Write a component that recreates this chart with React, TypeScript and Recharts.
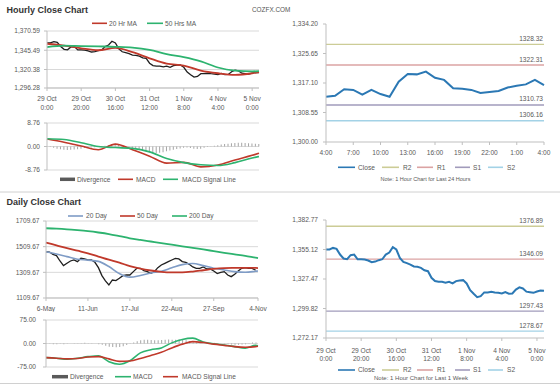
import React from 'react'
import {
  ComposedChart,
  LineChart,
  Line,
  Bar,
  XAxis,
  YAxis,
  CartesianGrid,
  ReferenceLine,
} from 'recharts'

const FONT = '"Liberation Sans", Arial, sans-serif'
const TXT = '#595959'
const AXIS = '#bfbfbf'
const GRID = '#d9d9d9'
const RED = '#c0392b'
const GREEN = '#2db36f'
const BLUE20 = '#7f9cc6'
const CLOSE_BLUE = '#2b78b4'
const DIV = '#a5a5a5'

// hourly closes for the last week, one every 2 hours from 29 Oct 0:00
const weekClose = [
  1355.1, 1355.1, 1356.6, 1355.7, 1350.4, 1346.7, 1346.0, 1349.8, 1350.4, 1346.0,
  1346.0, 1345.7, 1344.8, 1343.2, 1343.8, 1345.1, 1346.0, 1350.4, 1352.3, 1357.3,
  1355.1, 1347.3, 1343.5, 1342.3, 1341.0, 1339.2, 1338.9, 1337.9, 1335.7, 1334.8,
  1328.6, 1325.5, 1324.8, 1324.8, 1323.9, 1324.8, 1323.3, 1325.5, 1326.1, 1326.4,
  1323.3, 1317.0, 1313.6, 1310.5, 1311.4, 1314.9, 1314.9, 1315.5, 1314.9, 1314.5,
  1313.9, 1315.3, 1313.7, 1313.9, 1317.5, 1319.6, 1318.6, 1315.6, 1315.1, 1314.5,
  1315.8, 1316.7, 1316.5,
]
const weekDivergence = [
  0, -0.2, -0.5, -0.8, -1.0, -1.2, -1.3, -1.2, -1.1, -1.0,
  -0.8, -0.6, -0.5, -0.4, -0.3, -0.2, 0.0, 0.3, 0.6, 0.9,
  1.0, 0.6, 0.3, -0.1, -0.4, -0.6, -0.9, -1.2, -1.5, -1.8,
  -2.1, -2.3, -2.4, -2.3, -2.1, -1.8, -1.5, -1.2, -0.9, -0.7,
  -0.5, -0.4, -0.6, -0.8, -0.9, -0.8, -0.5, -0.2, 0.1, 0.3,
  0.5, 0.7, 0.9, 1.0, 1.2, 1.3, 1.4, 1.4, 1.3, 1.2,
  1.1, 1.0, 0.9,
]
const maHours = [0, 10, 20, 30, 40, 50, 60, 70, 80, 90, 100, 110, 120, 124]
const ma20Hr = [1354.0, 1351.5, 1348.0, 1345.5, 1348.5, 1343.0, 1335.0, 1328.0, 1325.5, 1319.0, 1315.5, 1313.5, 1315.5, 1317.0]
const ma50Hr = [1349.5, 1351.5, 1351.0, 1350.5, 1350.0, 1349.0, 1346.0, 1340.5, 1336.5, 1331.0, 1323.0, 1319.0, 1318.0, 1318.3]
const macdHourly = [2.8, 1.6, 0.2, -1.2, 0.9, -1.2, -3.6, -6.2, -5.9, -7.6, -6.9, -5.0, -3.3, -2.5]
const signalHourly = [2.9, 2.6, 1.4, 0.0, -0.4, -0.7, -2.0, -4.5, -6.0, -6.8, -7.1, -6.0, -4.3, -3.7]
const hourTicks = [0, 20, 40, 60, 80, 100, 120]
const hourTickDay = ['29 Oct', '29 Oct', '30 Oct', '31 Oct', '1 Nov', '4 Nov', '5 Nov']
const hourTickTime = ['0:00', '20:00', '16:00', '12:00', '8:00', '4:00', '0:00']
const hourlyPriceTicks = [1296.28, 1320.38, 1345.49, 1370.59]
const hourlyMacdTicks = [-8.76, 0, 8.76]

// last 24 hours, hourly
const lastDayClose = [
  1313.1, 1313.4, 1315.3, 1315.1, 1313.7, 1315.1, 1313.9, 1313.1, 1317.5, 1319.7,
  1319.6, 1320.4, 1318.6, 1318.0, 1315.6, 1315.4, 1315.1, 1314.2, 1314.5, 1314.8,
  1315.8, 1316.3, 1316.7, 1318.0, 1316.5,
]
const lastDayTicks = [0, 3, 6, 9, 12, 15, 18, 21, 24]
const lastDayLabels = ['4:00', '7:00', '10:00', '13:00', '16:00', '19:00', '22:00', '1:00', '4:00']
const lastDayPriceTicks = [1300.0, 1308.55, 1317.1, 1325.65, 1334.2]
const weekPriceTicks = [1272.17, 1299.82, 1327.47, 1355.12, 1382.77]

// pivot levels
const pivotNames = ['R2', 'R1', 'S1', 'S2']
const pivotColors = ['#cccc96', '#dba3a3', '#a19bbb', '#a3d2e6']
const lastDayPivots = [1328.32, 1322.31, 1310.73, 1306.16]
const weekPivots = [1376.89, 1346.09, 1297.43, 1278.67]

// daily, one value every 3 days from 6-May
const dailyClose = [
  1470, 1468, 1450, 1440, 1398, 1362, 1380, 1398, 1406, 1393,
  1419, 1414, 1406, 1406, 1388, 1346, 1284, 1243, 1212, 1250,
  1245, 1263, 1284, 1289, 1289, 1315, 1341, 1341, 1323, 1315,
  1302, 1315, 1346, 1367, 1380, 1393, 1406, 1419, 1414, 1393,
  1388, 1372, 1352, 1341, 1341, 1352, 1336, 1336, 1320, 1300,
  1310, 1315, 1289, 1276, 1295, 1320, 1341, 1346, 1341, 1341,
  1326,
]
const dailyDivergence = [
  -1, -1, -2, -2, -1, -2, -1, 0, 1, 1,
  1, 2, 1, 1, 0, -2, -4, -7, -10, -11,
  -12, -11, -9, -5, -1, 3, 7, 10, 12, 12,
  11, 10, 10, 11, 12, 13, 12, 12, 13, 12,
  10, 8, 6, 3, 1, 0, 1, 2, 2, 1,
  0, -1, -2, -3, -4, -4, -3, -2, 1, 3,
  3,
]
const maDays = [0, 9, 18, 27, 36, 45, 54, 63, 72, 81, 90, 99, 108, 117, 126, 135, 144, 153, 162, 171, 180, 182]
const ma20Day = [1470, 1452, 1432, 1412, 1405, 1395, 1355, 1300, 1272, 1285, 1305, 1318, 1345, 1370, 1378, 1362, 1342, 1328, 1315, 1310, 1318, 1320]
const ma50Day = [1542, 1520, 1498, 1478, 1458, 1432, 1408, 1385, 1358, 1338, 1324, 1314, 1310, 1310, 1316, 1326, 1336, 1342, 1344, 1345, 1344, 1343]
const ma200Day = [1653, 1650, 1645, 1638, 1630, 1620, 1608, 1592, 1575, 1562, 1550, 1538, 1525, 1512, 1500, 1488, 1475, 1462, 1450, 1438, 1424, 1421]
const macdDaily = [-45, -47, -50, -47, -42, -39, -58, -66, -55, -30, -20, -14, 2, 13, 17, 5, -1, -5, -10, -15, -6, -7]
const signalDaily = [-45, -47, -49, -48, -43, -42, -49, -57, -56, -48, -38, -28, -14, -2, 6, 3, -2, -6, -10, -12, -10, -9]
const dayTicks = [0, 36, 72, 108, 144, 182]
const dayTickLabels = ['6-May', '11-Jun', '17-Jul', '22-Aug', '27-Sep', '4-Nov']
const dailyPriceTicks = [1109.67, 1309.67, 1509.67, 1709.67]
const dailyMacdTicks = [-75, 0, 75]

const weekRows = weekClose.map((close, i) => ({ h: i * 2, close, div: weekDivergence[i] }))
const hourMaRows = maHours.map((h, i) => ({
  h,
  ma20: ma20Hr[i],
  ma50: ma50Hr[i],
  macd: macdHourly[i],
  signal: signalHourly[i],
}))
const lastDayRows = lastDayClose.map((close, i) => ({ i, close }))
const dailyRows = dailyClose.map((close, i) => ({ d: i * 3, close, div: dailyDivergence[i] }))
const dayMaRows = maDays.map((d, i) => ({
  d,
  ma20: ma20Day[i],
  ma50: ma50Day[i],
  ma200: ma200Day[i],
  macd: macdDaily[i],
  signal: signalDaily[i],
}))

const fmtComma = (v: number) =>
  v.toLocaleString('en-US', { minimumFractionDigits: 2, maximumFractionDigits: 2 })
const fmtPlain = (v: number) => v.toFixed(2)

const tickStyle = { fontSize: 6.6, fill: TXT, fontFamily: FONT }

function LabelTick(props: any) {
  const { x, y, payload, ticks, top, bottom, dy1, dy2 } = props
  const k = ticks.indexOf(payload.value)
  return (
    <text x={x} y={y} textAnchor="middle" fill={TXT} fontSize={6.6} fontFamily={FONT}>
      <tspan x={x} dy={dy1}>{top[k]}</tspan>
      {bottom && <tspan x={x} dy={dy2}>{bottom[k]}</tspan>}
    </text>
  )
}

function PivotLabel(props: any) {
  const { viewBox, text } = props
  return (
    <text
      x={viewBox.x + viewBox.width - 1}
      y={viewBox.y - 3.5}
      textAnchor="end"
      fill={TXT}
      fontSize={6.6}
      fontFamily={FONT}
    >
      {text}
    </text>
  )
}

function Legend({ y, items }: { y: number; items: any[] }) {
  return (
    <g>
      {items.map((it) => (
        <g key={it.label}>
          <line
            x1={it.x}
            x2={it.x + it.w}
            y1={y}
            y2={y}
            stroke={it.color}
            strokeWidth={it.thick ? 3.5 : 1.6}
          />
          <text x={it.tx} y={y + 2.4} fill={TXT} fontSize={6.6} fontFamily={FONT}>
            {it.label}
          </text>
        </g>
      ))}
    </g>
  )
}

const pivotLegend = [
  { label: 'Close', color: CLOSE_BLUE, x: 338, w: 17, tx: 358 },
  { label: 'R2', color: pivotColors[0], x: 382, w: 17, tx: 403 },
  { label: 'R1', color: pivotColors[1], x: 417, w: 16, tx: 437 },
  { label: 'S1', color: pivotColors[2], x: 455, w: 15, tx: 473 },
  { label: 'S2', color: pivotColors[3], x: 488, w: 15, tx: 507 },
]

export default function App() {
  const yAxisCommon = {
    type: 'number' as const,
    allowDataOverflow: true,
    axisLine: { stroke: AXIS },
    tickLine: { stroke: AXIS },
    tickSize: 3,
    tick: tickStyle,
    interval: 0 as const,
  }
  return (
    <div
      style={{
        position: 'absolute',
        left: 0,
        top: 0,
        width: 560,
        height: 385,
        background: '#fff',
        fontFamily: FONT,
        overflow: 'hidden',
      }}
    >
      {/* hourly price */}
      <div style={{ position: 'absolute', left: 0, top: 26 }}>
        <ComposedChart width={272} height={87} data={weekRows} margin={{ top: 5, right: 13, bottom: 0, left: 0 }}>
          <CartesianGrid vertical={false} stroke={GRID} />
          <XAxis
            dataKey="h"
            type="number"
            domain={[0, 124]}
            ticks={hourTicks}
            interval={0}
            height={25}
            axisLine={{ stroke: AXIS }}
            tickLine={{ stroke: AXIS }}
            tickSize={3}
            tick={<LabelTick ticks={hourTicks} top={hourTickDay} bottom={hourTickTime} dy1={8.3} dy2={8.2} />}
          />
          <YAxis {...yAxisCommon} width={47} tickMargin={4} domain={[1296.28, 1370.59]} ticks={hourlyPriceTicks} tickFormatter={fmtComma} />
          <Line dataKey="close" stroke="#1f1f1f" strokeWidth={1.3} dot={false} isAnimationActive={false} />
          <Line data={hourMaRows} dataKey="ma20" type="monotone" stroke={RED} strokeWidth={1.8} dot={false} isAnimationActive={false} />
          <Line data={hourMaRows} dataKey="ma50" type="monotone" stroke={GREEN} strokeWidth={1.8} dot={false} isAnimationActive={false} />
        </ComposedChart>
      </div>

      {/* hourly MACD */}
      <div style={{ position: 'absolute', left: 0, top: 117 }}>
        <ComposedChart width={265} height={55} data={weekRows} margin={{ top: 6, right: 6, bottom: 2, left: 0 }}>
          <CartesianGrid vertical={false} stroke={GRID} />
          <XAxis dataKey="h" type="number" domain={[0, 124]} hide />
          <YAxis {...yAxisCommon} width={47} tickMargin={4} domain={[-8.76, 8.76]} ticks={hourlyMacdTicks} tickFormatter={fmtPlain} />
          <Bar dataKey="div" fill={DIV} barSize={1} isAnimationActive={false} />
          <Line data={hourMaRows} dataKey="macd" type="monotone" stroke={RED} strokeWidth={1.6} dot={false} isAnimationActive={false} />
          <Line data={hourMaRows} dataKey="signal" type="monotone" stroke={GREEN} strokeWidth={1.6} dot={false} isAnimationActive={false} />
        </ComposedChart>
      </div>

      {/* last 24 hours */}
      <div style={{ position: 'absolute', left: 270, top: 18 }}>
        <LineChart width={281} height={138} data={lastDayRows} margin={{ top: 6, right: 7, bottom: 0, left: 0 }}>
          <XAxis
            dataKey="i"
            type="number"
            domain={[0, 24]}
            ticks={lastDayTicks}
            interval={0}
            height={14}
            axisLine={{ stroke: AXIS }}
            tickLine={{ stroke: AXIS }}
            tickSize={3}
            tick={<LabelTick ticks={lastDayTicks} top={lastDayLabels} dy1={8.4} />}
          />
          <YAxis {...yAxisCommon} width={56} tickMargin={5} domain={[1300, 1334.2]} ticks={lastDayPriceTicks} tickFormatter={fmtComma} />
          {lastDayPivots.map((v, k) => (
            <ReferenceLine key={pivotNames[k]} y={v} stroke={pivotColors[k]} strokeWidth={1.3} label={<PivotLabel text={v.toFixed(2)} />} />
          ))}
          <Line dataKey="close" stroke={CLOSE_BLUE} strokeWidth={2} dot={false} isAnimationActive={false} />
        </LineChart>
      </div>

      {/* last week */}
      <div style={{ position: 'absolute', left: 270, top: 213 }}>
        <LineChart width={281} height={151} data={weekRows} margin={{ top: 7, right: 7, bottom: 0, left: 0 }}>
          <XAxis
            dataKey="h"
            type="number"
            domain={[0, 124]}
            ticks={hourTicks}
            interval={0}
            height={26}
            axisLine={{ stroke: AXIS }}
            tickLine={{ stroke: AXIS }}
            tickSize={3}
            tick={<LabelTick ticks={hourTicks} top={hourTickDay} bottom={hourTickTime} dy1={10.1} dy2={8.3} />}
          />
          <YAxis {...yAxisCommon} width={56} tickMargin={5} domain={[1272.17, 1382.77]} ticks={weekPriceTicks} tickFormatter={fmtComma} />
          {weekPivots.map((v, k) => (
            <ReferenceLine key={pivotNames[k]} y={v} stroke={pivotColors[k]} strokeWidth={1.3} label={<PivotLabel text={v.toFixed(2)} />} />
          ))}
          <Line dataKey="close" stroke={CLOSE_BLUE} strokeWidth={2} dot={false} isAnimationActive={false} />
        </LineChart>
      </div>

      {/* daily price */}
      <div style={{ position: 'absolute', left: 0, top: 215 }}>
        <ComposedChart width={275} height={97} data={dailyRows} margin={{ top: 6, right: 17, bottom: 0, left: 0 }}>
          <CartesianGrid vertical={false} stroke={GRID} />
          <XAxis
            dataKey="d"
            type="number"
            domain={[0, 182]}
            ticks={dayTicks}
            interval={0}
            height={14}
            axisLine={{ stroke: AXIS }}
            tickLine={{ stroke: AXIS }}
            tickSize={3}
            tick={<LabelTick ticks={dayTicks} top={dayTickLabels} dy1={7.7} />}
          />
          <YAxis {...yAxisCommon} width={46} tickMargin={3.5} domain={[1109.67, 1709.67]} ticks={dailyPriceTicks} tickFormatter={fmtPlain} />
          <Line dataKey="close" stroke="#1f1f1f" strokeWidth={1.3} dot={false} isAnimationActive={false} />
          <Line data={dayMaRows} dataKey="ma20" type="monotone" stroke={BLUE20} strokeWidth={1.6} dot={false} isAnimationActive={false} />
          <Line data={dayMaRows} dataKey="ma50" type="monotone" stroke={RED} strokeWidth={1.8} dot={false} isAnimationActive={false} />
          <Line data={dayMaRows} dataKey="ma200" type="monotone" stroke={GREEN} strokeWidth={1.8} dot={false} isAnimationActive={false} />
        </ComposedChart>
      </div>

      {/* daily MACD */}
      <div style={{ position: 'absolute', left: 0, top: 314 }}>
        <ComposedChart width={265} height={55} data={dailyRows} margin={{ top: 6, right: 7, bottom: 2, left: 0 }}>
          <CartesianGrid vertical={false} stroke={GRID} />
          <XAxis dataKey="d" type="number" domain={[0, 182]} hide />
          <YAxis {...yAxisCommon} width={46} tickMargin={7} domain={[-75, 75]} ticks={dailyMacdTicks} tickFormatter={fmtPlain} />
          <Bar dataKey="div" fill={DIV} barSize={1} isAnimationActive={false} />
          <Line data={dayMaRows} dataKey="macd" type="monotone" stroke={GREEN} strokeWidth={1.6} dot={false} isAnimationActive={false} />
          <Line data={dayMaRows} dataKey="signal" type="monotone" stroke={RED} strokeWidth={1.6} dot={false} isAnimationActive={false} />
        </ComposedChart>
      </div>

      {/* titles, legends, notes */}
      <svg width={560} height={385} style={{ position: 'absolute', left: 0, top: 0, pointerEvents: 'none' }}>
        <text x={6.5} y={12.7} fontSize={9} fontWeight="bold" fill="#333" fontFamily={FONT}>
          Hourly Close Chart
        </text>
        <text x={252} y={11.7} fontSize={6.4} fill="#555" fontFamily={FONT}>
          COZFX.COM
        </text>
        <Legend
          y={23.3}
          items={[
            { label: '20 Hr MA', color: RED, x: 92, w: 15, tx: 109 },
            { label: '50 Hrs MA', color: GREEN, x: 147, w: 16, tx: 165 },
          ]}
        />
        <Legend
          y={179.3}
          items={[
            { label: 'Divergence', color: '#5a5a5a', x: 60, w: 15, tx: 77, thick: true },
            { label: 'MACD', color: RED, x: 118, w: 15, tx: 136 },
            { label: 'MACD Signal Line', color: GREEN, x: 163, w: 15, tx: 182 },
          ]}
        />
        <Legend y={167.3} items={pivotLegend} />
        <text x={425.5} y={181.3} fontSize={5.5} fill={TXT} textAnchor="middle" fontFamily={FONT}>
          Note: 1 Hour Chart for Last 24 Hours
        </text>
        <line x1={0} x2={560} y1={192} y2={192} stroke="#d0d0d0" strokeWidth={1} />
        <text x={6.5} y={204.7} fontSize={9} fontWeight="bold" fill="#333" fontFamily={FONT}>
          Daily Close Chart
        </text>
        <Legend
          y={216}
          items={[
            { label: '20 Day', color: BLUE20, x: 68, w: 15, tx: 86 },
            { label: '50 Day', color: RED, x: 120, w: 15, tx: 137 },
            { label: '200 Day', color: GREEN, x: 172, w: 15, tx: 189 },
          ]}
        />
        <Legend y={370} items={pivotLegend} />
        <text x={421} y={379.5} fontSize={6} fill={TXT} textAnchor="middle" fontFamily={FONT}>
          Note: 1 Hour Chart for Last 1 Week
        </text>
        <Legend
          y={376.7}
          items={[
            { label: 'Divergence', color: '#5a5a5a', x: 52, w: 16, tx: 70, thick: true },
            { label: 'MACD', color: GREEN, x: 115, w: 16, tx: 133 },
            { label: 'MACD Signal Line', color: RED, x: 163, w: 15, tx: 182 },
          ]}
        />
        <line x1={0} x2={560} y1={383.5} y2={383.5} stroke="#d0d0d0" strokeWidth={1} />
      </svg>
    </div>
  )
}
